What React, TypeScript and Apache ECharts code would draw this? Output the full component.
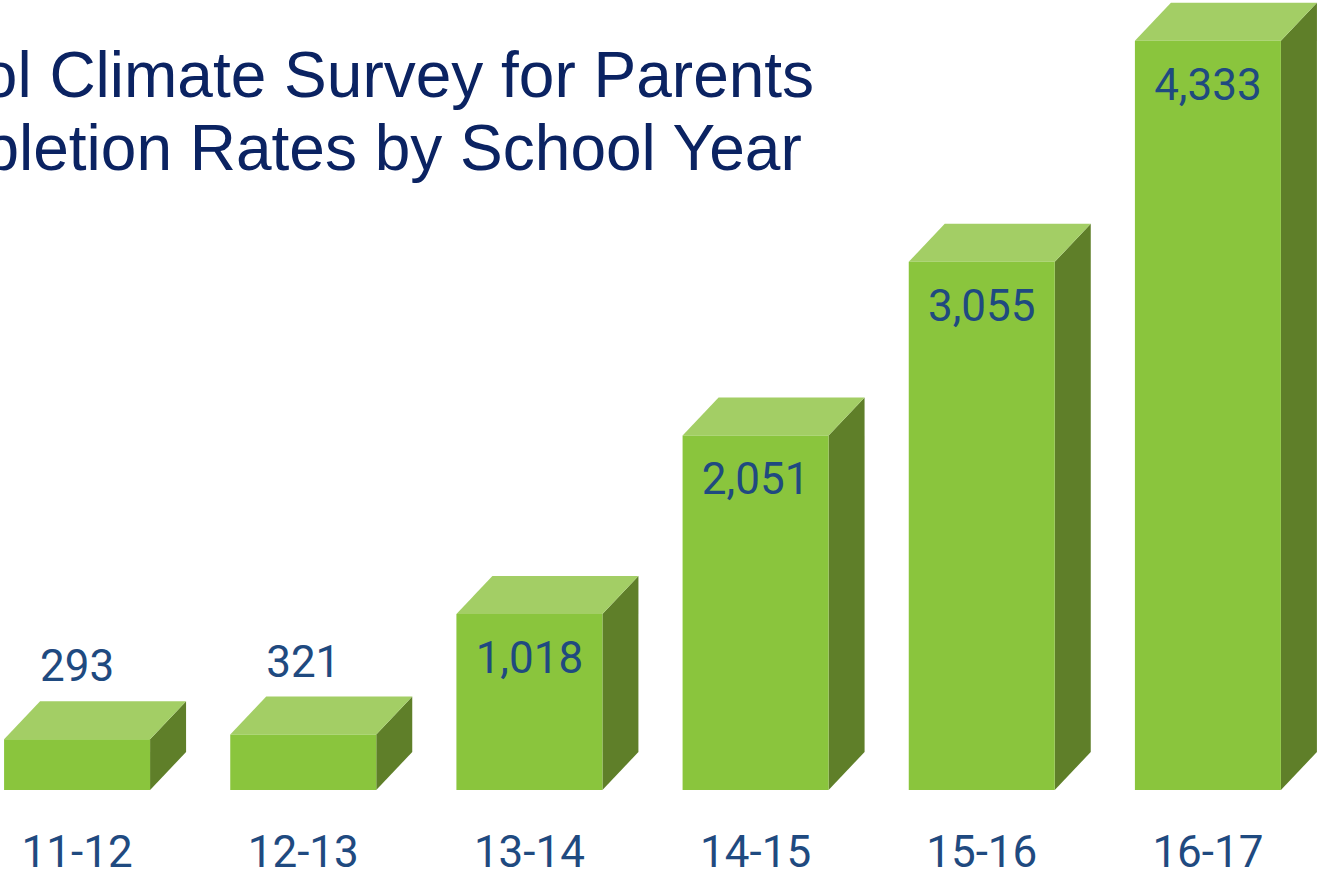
import React, { useEffect, useRef } from "react";
import * as echarts from "echarts";

const categories = ["11-12", "12-13", "13-14", "14-15", "15-16", "16-17"];
const completions = [293, 321, 1018, 2051, 3055, 4333];
const titleLines = ["School Climate Survey for Parents", "Completion Rates by School Year"];

const FRONT = "#8AC53D";
const TOP = "#A3CE65";
const SIDE = "#5F7F29";
const LABEL = "#1F4A80";
const TITLE = "#0B2362";

const BAR_W = 146;
const DX = 36;
const DY = 38;
const OFFSET = 36;

export default function App() {
  const ref = useRef<HTMLDivElement>(null);
  useEffect(() => {
    if (!ref.current) return;
    const chart = echarts.init(ref.current, null, { renderer: "svg" });
    const data = categories.map((c, i) => [i, completions[i]]);
    chart.setOption({
      animation: false,
      backgroundColor: "#ffffff",
      grid: { left: 0, right: 0, top: 12, bottom: 83, containLabel: false },
      xAxis: {
        type: "category",
        data: categories,
        axisLine: { show: false },
        axisTick: { show: false },
        splitLine: { show: false },
        axisLabel: {
          color: LABEL,
          fontFamily: "Roboto",
          fontSize: 44,
          verticalAlign: "middle",
          lineHeight: 36,
          margin: 62,
          interval: 0,
        },
      },
      yAxis: { type: "value", min: 0, max: 4500, show: false, splitLine: { show: false } },
      graphic: titleLines.map((t, i) => ({
        type: "text",
        x: 325 + OFFSET,
        y: 75 + i * 73,
        style: {
          text: t,
          fill: TITLE,
          font: "64px 'Liberation Sans', Arial, sans-serif",
          textAlign: "center",
          textVerticalAlign: "middle",
        },
        z: 10,
      })),
      series: [
        {
          type: "custom",
          data,
          renderItem: (params: any, api: any) => {
            const top = api.coord([api.value(0), api.value(1)]);
            const base = api.coord([api.value(0), 0]);
            const cx = top[0];
            const l = cx - BAR_W / 2;
            const r = cx + BAR_W / 2;
            const t = top[1];
            const b = base[1];
            const v = api.value(1) as number;
            const inside = b - t > 120;
            const ly = inside ? t + 44 : t - DY - 35;
            return {
              type: "group",
              children: [
                { type: "polygon", shape: { points: [[r, t], [r + DX, t - DY], [r + DX, b - DY], [r, b]] }, style: { fill: SIDE } },
                { type: "polygon", shape: { points: [[l, t], [l + DX, t - DY], [r + DX, t - DY], [r, t]] }, style: { fill: TOP } },
                { type: "rect", shape: { x: l, y: t, width: BAR_W, height: b - t }, style: { fill: FRONT } },
                {
                  type: "text",
                  x: cx,
                  y: ly,
                  style: {
                    text: v.toLocaleString("en-US"),
                    fill: LABEL,
                    font: "44px Roboto",
                    textAlign: "center",
                    textVerticalAlign: "middle",
                  },
                },
              ],
            };
          },
        },
      ],
    });
    return () => chart.dispose();
  }, []);
  return (
    <div
      ref={ref}
      style={{ position: "fixed", left: -OFFSET, top: 0, width: 1317 + OFFSET + 4, height: 874 }}
    />
  );
}
